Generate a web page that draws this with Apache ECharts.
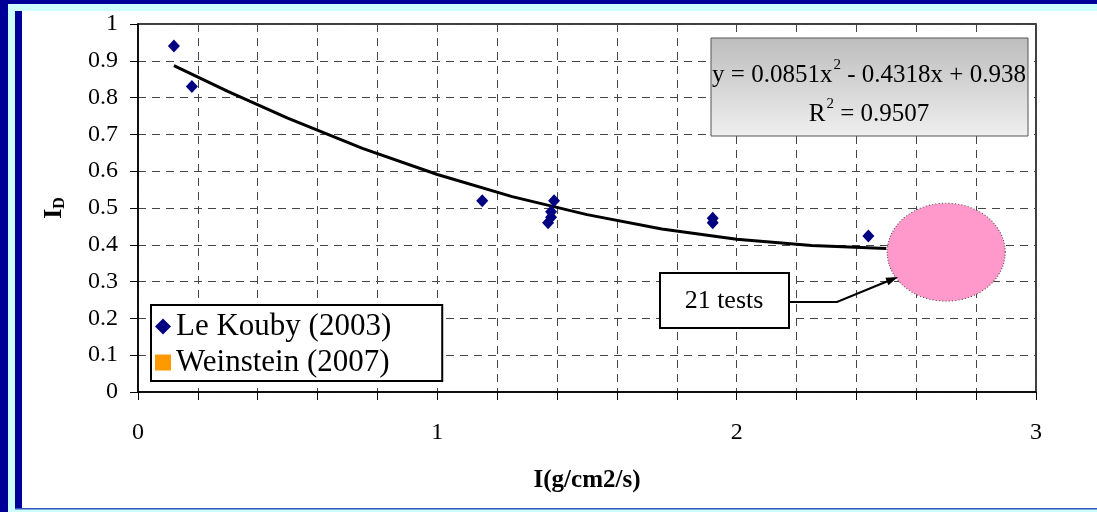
<!DOCTYPE html>
<html>
<head>
<meta charset="utf-8">
<script src="https://cdn.jsdelivr.net/npm/echarts@6/dist/echarts.min.js"></script>
<style>
html, body { margin: 0; padding: 0; background: #fff; }
#main { width: 1097px; height: 512px; }
</style>
</head>
<body>
<div id="main"></div>
<script>
// Le Kouby (2003) points
const leKoubyX = [0.12, 0.18, 1.15, 1.37, 1.38, 1.38, 1.39, 1.92, 1.92, 2.44];
const leKoubyY = [0.94, 0.83, 0.52, 0.46, 0.475, 0.49, 0.52, 0.46, 0.472, 0.424];
// polynomial trend line
const trendX = [0.12, 0.3, 0.5, 0.75, 1.0, 1.25, 1.5, 1.75, 2.0, 2.25, 2.5];
const trendY = [0.887, 0.817, 0.744, 0.662, 0.591, 0.531, 0.482, 0.443, 0.415, 0.398, 0.39];
// Weinstein (2007): 21 tests shown as one pink blob
const weinsteinX = [2.7];
const weinsteinY = [0.38];
const xTickLabels = ['0', '1', '2', '3'];

const FONT = 'Liberation Serif';
const NAVY = '#000099';
const CYAN = '#ccffff';

function pairs(xs, ys) {
  return xs.map((x, i) => [x, ys[i]]);
}

const chart = echarts.init(document.getElementById('main'), null, { renderer: 'canvas' });

let option = {
  backgroundColor: '#fff',
  animation: false,
  grid: {
    left: 138,
    right: 61,
    top: 24,
    bottom: 120,
    show: true,
    borderColor: '#000',
    borderWidth: 1.5
  },
  legend: {
    left: 151,
    top: 305,
    orient: 'vertical',
    backgroundColor: '#fff',
    borderColor: '#000',
    borderWidth: 2,
    borderRadius: 0,
    padding: [6, 51, 3, 4],
    itemGap: 5,
    itemWidth: 16,
    itemHeight: 16,
    selectedMode: false,
    textStyle: { fontFamily: FONT, fontSize: 31, color: '#000' },
    data: [
      { name: 'Le Kouby (2003)', icon: 'diamond', itemStyle: { color: '#000080', opacity: 1 } },
      { name: 'Weinstein (2007)', icon: 'rect', itemStyle: { color: '#ff9900', opacity: 1 } }
    ]
  },
  xAxis: {
    type: 'value',
    min: 0,
    max: 3,
    interval: 0.2,
    name: 'I(g/cm2/s)',
    nameLocation: 'middle',
    nameGap: 76,
    nameTextStyle: { fontFamily: FONT, fontSize: 25, fontWeight: 'bold', color: '#000' },
    axisLine: { lineStyle: { color: '#000', width: 1.5 } },
    axisTick: { show: true, length: 8, lineStyle: { color: '#000' } },
    axisLabel: {
      margin: 29,
      fontFamily: FONT,
      fontSize: 24,
      color: '#000',
      formatter: (v) => {
        let r = Math.round(v);
        return Math.abs(v - r) < 1e-6 ? xTickLabels[r] : '';
      }
    },
    splitLine: { show: true, lineStyle: { color: '#444', type: [8, 6], width: 1 } }
  },
  yAxis: {
    type: 'value',
    min: 0,
    max: 1,
    interval: 0.1,
    name: '{a|I}{b|D}',
    nameLocation: 'middle',
    nameRotate: 90,
    nameGap: 70,
    nameTextStyle: {
      color: '#000',
      rich: {
        a: { fontFamily: FONT, fontSize: 26, fontWeight: 'bold', color: '#000' },
        b: { fontFamily: FONT, fontSize: 16, fontWeight: 'bold', color: '#000', padding: [12, 0, 0, 0] }
      }
    },
    axisLine: { show: true, lineStyle: { color: '#000', width: 1.5 } },
    axisTick: { show: true, length: 8, lineStyle: { color: '#000' } },
    axisLabel: { margin: 20, fontFamily: FONT, fontSize: 24, color: '#000' },
    splitLine: { show: true, lineStyle: { color: '#444', type: [8, 6], width: 1 } }
  },
  series: [
    {
      name: 'trend',
      type: 'line',
      data: pairs(trendX, trendY),
      symbol: 'none',
      smooth: false,
      lineStyle: { color: '#000', width: 3 },
      z: 2
    },
    {
      name: 'Le Kouby (2003)',
      type: 'scatter',
      data: pairs(leKoubyX, leKoubyY),
      symbol: 'diamond',
      symbolSize: [12, 13],
      itemStyle: { color: '#000080', opacity: 1 },
      z: 4
    },
    {
      name: 'Weinstein (2007)',
      type: 'scatter',
      data: [],
      symbol: 'rect',
      itemStyle: { color: '#ff9900', opacity: 1 }
    },
    {
      name: '21 tests',
      type: 'scatter',
      data: pairs(weinsteinX, weinsteinY),
      symbol: 'circle',
      symbolSize: [118, 98],
      itemStyle: { color: '#ff99cc', opacity: 1, borderColor: '#444', borderWidth: 1, borderType: [1, 2] },
      z: 3
    }
  ],
  graphic: [
    // slide frame
    { type: 'rect', shape: { x: 0, y: 0, width: 1097, height: 4 }, style: { fill: NAVY }, silent: true },
    { type: 'rect', shape: { x: 8, y: 4, width: 1089, height: 7 }, style: { fill: CYAN }, silent: true },
    { type: 'rect', shape: { x: 0, y: 0, width: 8, height: 512 }, style: { fill: NAVY }, silent: true },
    { type: 'rect', shape: { x: 8, y: 4, width: 7, height: 508 }, style: { fill: CYAN }, silent: true },
    { type: 'rect', shape: { x: 15, y: 11, width: 7, height: 498 }, style: { fill: NAVY }, silent: true },
    { type: 'rect', shape: { x: 15, y: 509, width: 1082, height: 3 }, style: { fill: CYAN }, silent: true },
    { type: 'rect', shape: { x: 15, y: 508, width: 1082, height: 1.5 }, style: { fill: '#3355bb' }, silent: true },
    // equation box
    {
      type: 'rect',
      shape: { x: 711, y: 38, width: 317, height: 98 },
      style: {
        fill: new echarts.graphic.LinearGradient(0, 0, 0, 1, [
          { offset: 0, color: '#bdbdbd' },
          { offset: 1, color: '#efefef' }
        ]),
        stroke: '#555',
        lineWidth: 1
      },
      z: 10
    },
    {
      type: 'text',
      x: 869,
      y: 73,
      style: {
        text: '{n|y = 0.0851x}{s|2}{n| - 0.4318x + 0.938}',
        align: 'center',
        verticalAlign: 'middle',
        rich: {
          n: { fontFamily: FONT, fontSize: 25, color: '#000', lineHeight: 30, verticalAlign: 'bottom' },
          s: { fontFamily: FONT, fontSize: 15, color: '#000', lineHeight: 30, verticalAlign: 'top', padding: [0, 0, 0, 1] }
        }
      },
      z: 11
    },
    {
      type: 'text',
      x: 869,
      y: 112,
      style: {
        text: '{n|R}{s|2}{n| = 0.9507}',
        align: 'center',
        verticalAlign: 'middle',
        rich: {
          n: { fontFamily: FONT, fontSize: 25, color: '#000', lineHeight: 30, verticalAlign: 'bottom' },
          s: { fontFamily: FONT, fontSize: 15, color: '#000', lineHeight: 30, verticalAlign: 'top', padding: [0, 0, 0, 1] }
        }
      },
      z: 11
    },
    // 21 tests callout
    {
      type: 'rect',
      shape: { x: 660, y: 273, width: 129, height: 55 },
      style: { fill: '#fff', stroke: '#000', lineWidth: 2 },
      z: 10
    },
    {
      type: 'text',
      x: 724,
      y: 301,
      style: { text: '21 tests', fontFamily: FONT, fontSize: 26, fill: '#000', align: 'center', verticalAlign: 'middle' },
      z: 11
    },
    {
      type: 'polyline',
      shape: { points: [[790, 302], [837, 302], [888, 281]] },
      style: { stroke: '#000', lineWidth: 2, fill: null },
      z: 10
    },
    {
      type: 'polygon',
      shape: { points: [[898, 277], [888.4, 285.2], [885.4, 277.8]] },
      style: { fill: '#000' },
      z: 10
    }
  ]
};

chart.setOption(option);
</script>
</body>
</html>
